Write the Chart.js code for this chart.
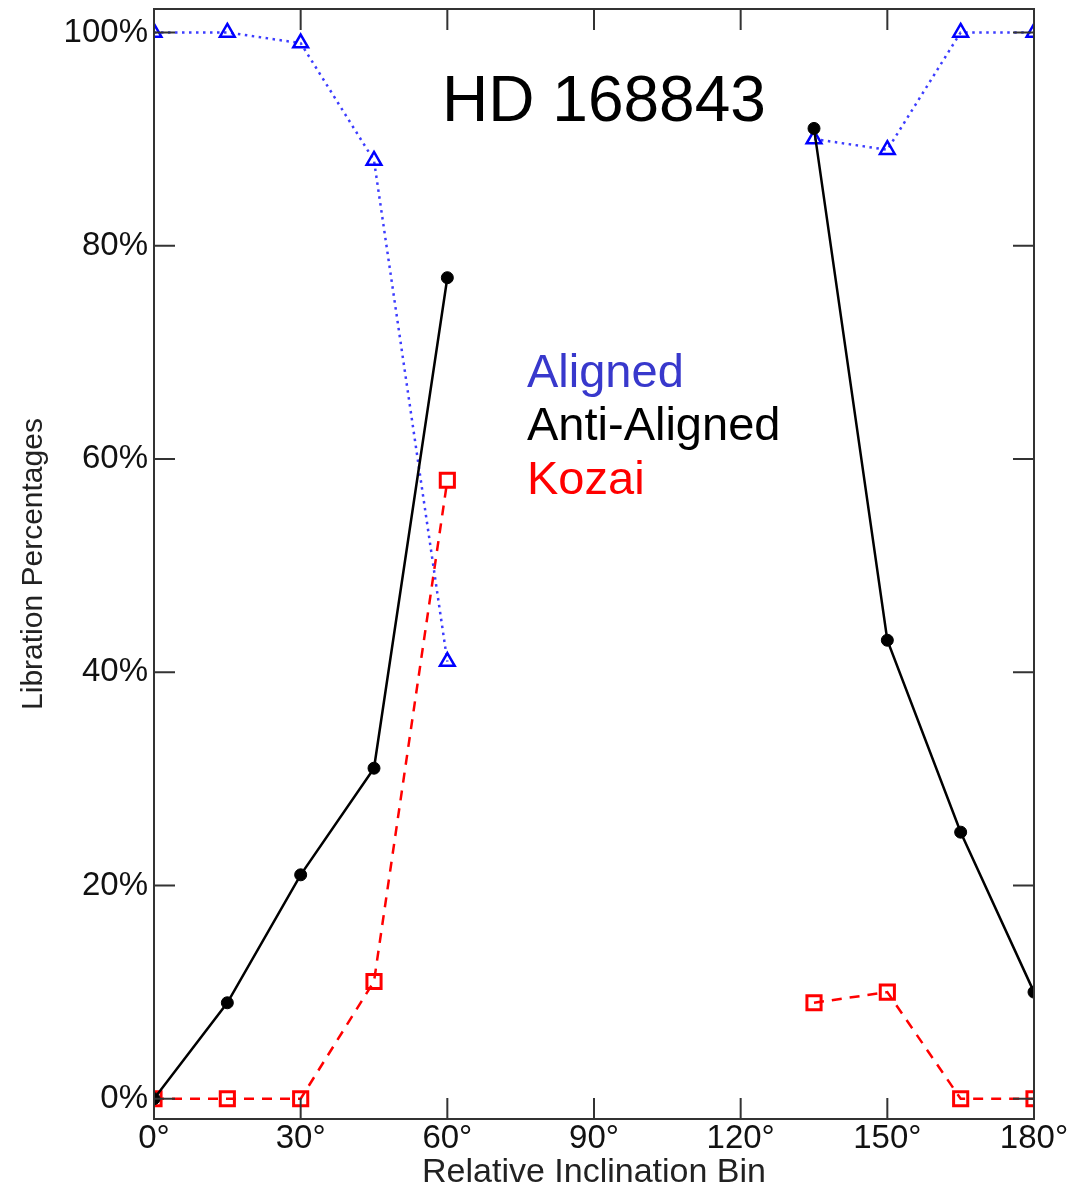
<!DOCTYPE html>
<html>
<head>
<meta charset="utf-8">
<script src="https://cdn.jsdelivr.net/npm/chart.js@4"></script>
<style>
  body { margin: 0; background: #fff; }
  #wrap { width: 1068px; height: 1186px; position: relative; }
</style>
</head>
<body>
<div id="wrap"><canvas id="grafico"></canvas></div>
<script>
// bins de inclinacion relativa (grados); sin datos entre 75 y 120
var bins = [0, 15, 30, 45, 60, 75, 90, 105, 120, 135, 150, 165, 180];
var aligned = [100, 100, 99, 88, 41, null, null, null, null, 90, 89, 100, 100];
var antiAligned = [0, 9, 21, 31, 77, null, null, null, null, 91, 43, 25, 10];
var kozai = [0, 0, 0, 11, 58, null, null, null, null, 9, 10, 0, 0];

var xTicks = [0, 30, 60, 90, 120, 150, 180];
var yTicks = [0, 20, 40, 60, 80, 100];

var fuente = 'Liberation Sans, Arial, sans-serif';

function puntos(valores) {
  return bins.map(function(b, i) { return { x: b, y: valores[i] }; });
}

// caja del grafico, marcas hacia dentro y textos
var cajaPlugin = {
  id: 'caja',
  afterDatasetsDraw: function(chart) {
    var ctx = chart.ctx;
    var a = chart.chartArea;
    var xs = chart.scales.x, ys = chart.scales.y;
    ctx.save();
    ctx.strokeStyle = '#333';
    ctx.lineWidth = 2;
    ctx.beginPath();
    xTicks.forEach(function(v) {
      var px = xs.getPixelForValue(v);
      ctx.moveTo(px, a.bottom); ctx.lineTo(px, a.bottom - 21);
      ctx.moveTo(px, a.top); ctx.lineTo(px, a.top + 21);
    });
    yTicks.forEach(function(v) {
      var py = ys.getPixelForValue(v);
      ctx.moveTo(a.left, py); ctx.lineTo(a.left + 21, py);
      ctx.moveTo(a.right, py); ctx.lineTo(a.right - 21, py);
    });
    ctx.stroke();
    ctx.strokeRect(a.left, a.top, a.right - a.left, a.bottom - a.top);

    ctx.fillStyle = '#000';
    ctx.font = '64px ' + fuente;
    ctx.textAlign = 'center';
    ctx.textBaseline = 'alphabetic';
    ctx.fillText('HD 168843', 604, 121);

    ctx.textAlign = 'left';
    ctx.font = '47px ' + fuente;
    ctx.fillStyle = '#3838cc';
    ctx.fillText('Aligned', 527, 387);
    ctx.fillStyle = '#000';
    ctx.fillText('Anti-Aligned', 527, 440);
    ctx.fillStyle = '#ff0000';
    ctx.fillText('Kozai', 527, 494);
    ctx.restore();
  }
};

new Chart(document.getElementById('grafico'), {
  type: 'line',
  data: {
    datasets: [{
      label: 'Anti-Aligned',
      data: puntos(antiAligned),
      borderColor: '#000',
      backgroundColor: '#000',
      borderWidth: 2.5,
      pointStyle: 'circle',
      pointRadius: 6,
      pointBorderWidth: 1,
      spanGaps: false
    }, {
      label: 'Aligned',
      data: puntos(aligned),
      borderColor: '#3c3cff',
      borderDash: [2.5, 4.5],
      borderWidth: 2.5,
      pointStyle: 'triangle',
      pointRadius: 8.5,
      pointBorderWidth: 2.5,
      pointBorderColor: '#0000ff',
      pointBackgroundColor: 'rgba(0,0,0,0)',
      spanGaps: false
    }, {
      label: 'Kozai',
      data: puntos(kozai),
      borderColor: '#ff0000',
      borderDash: [10, 8],
      borderWidth: 2.5,
      pointStyle: 'rect',
      pointRadius: 10,
      pointBorderWidth: 3,
      pointBorderColor: '#ff0000',
      pointBackgroundColor: 'rgba(0,0,0,0)',
      spanGaps: false
    }]
  },
  options: {
    responsive: true,
    maintainAspectRatio: false,
    animation: false,
    layout: { autoPadding: false, padding: { top: 9, right: 34, left: 0, bottom: 0 } },
    plugins: { legend: { display: false }, tooltip: { enabled: false } },
    scales: {
      x: {
        type: 'linear',
        min: 0,
        max: 180,
        grid: { display: false, drawTicks: false },
        border: { display: false },
        afterBuildTicks: function(s) { s.ticks = xTicks.map(function(v) { return { value: v }; }); },
        afterFit: function(s) { s.height = 67; s.paddingLeft = 0; s.paddingRight = 0; },
        ticks: {
          padding: 0,
          maxRotation: 0,
          color: '#111',
          font: { family: fuente, size: 33 },
          callback: function(v) { return v + '\u00b0'; }
        },
        title: {
          display: true,
          text: 'Relative Inclination Bin',
          color: '#222',
          font: { family: fuente, size: 34, lineHeight: 1 },
          padding: { top: 0, bottom: -4 }
        }
      },
      y: {
        min: -1.9,
        max: 102.2,
        grid: { display: false, drawTicks: false },
        border: { display: false },
        afterBuildTicks: function(s) { s.ticks = yTicks.map(function(v) { return { value: v }; }); },
        afterFit: function(s) { s.width = 154; s.paddingTop = 0; s.paddingBottom = 0; },
        ticks: {
          padding: 6,
          color: '#111',
          font: { family: fuente, size: 33, lineHeight: 0.5 },
          callback: function(v) { return v + '%'; }
        },
        title: {
          display: true,
          text: 'Libration Percentages',
          color: '#222',
          font: { family: fuente, size: 30, lineHeight: 1 },
          padding: { top: 19, bottom: 0 }
        }
      }
    }
  },
  plugins: [cajaPlugin]
});
</script>
</body>
</html>
